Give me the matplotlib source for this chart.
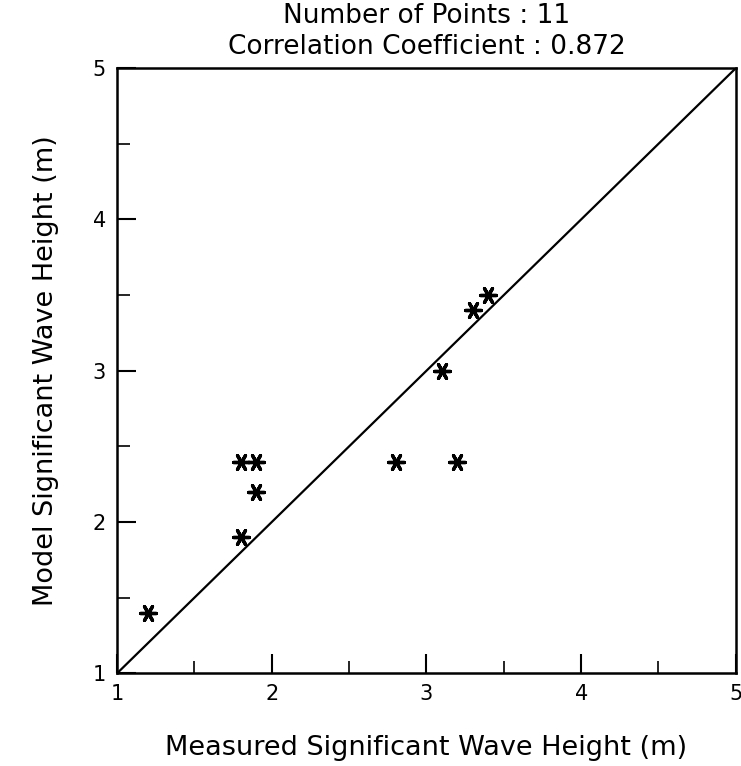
import matplotlib
matplotlib.use("Agg")
import matplotlib.pyplot as plt
import numpy as np

measured = [1.2, 1.8, 1.8, 1.9, 1.9, 2.8, 3.2, 3.1, 3.3, 3.4]
model = [1.4, 1.9, 2.4, 2.4, 2.2, 2.4, 2.4, 3.0, 3.4, 3.5]
n_points = 11
corr = 0.872
ticks = [1, 2, 3, 4, 5]

fig = plt.figure(figsize=(7.41, 7.66), dpi=100)
ax = fig.add_axes([0.158, 0.121, 0.835, 0.79])

ax.plot([1, 5], [1, 5], color="black", lw=1.6)
ax.scatter(measured, model, marker=(6, 2, 90), s=130, color="black", linewidths=2.4, zorder=3)

ax.set_xlim(1, 5)
ax.set_ylim(1, 5)
ax.set_xticks(ticks)
ax.set_yticks(ticks)
ax.set_xticks(np.arange(1.5, 5, 1.0), minor=True)
ax.set_yticks(np.arange(1.5, 5, 1.0), minor=True)
ax.tick_params(which="major", direction="in", length=14, width=1.5, labelsize=15, pad=8)
ax.tick_params(which="minor", direction="in", length=9, width=1.2)
for s in ax.spines.values():
    s.set_linewidth(1.8)

ax.set_title(f"Number of Points : {n_points}\nCorrelation Coefficient : {corr}",
             fontsize=19, linespacing=1.25, pad=10)
ax.set_xlabel("Measured Significant Wave Height (m)", fontsize=19.5, labelpad=22)
ax.set_ylabel("Model Significant Wave Height (m)", fontsize=19.5, labelpad=24)

fig.savefig("out.png", dpi=100)
